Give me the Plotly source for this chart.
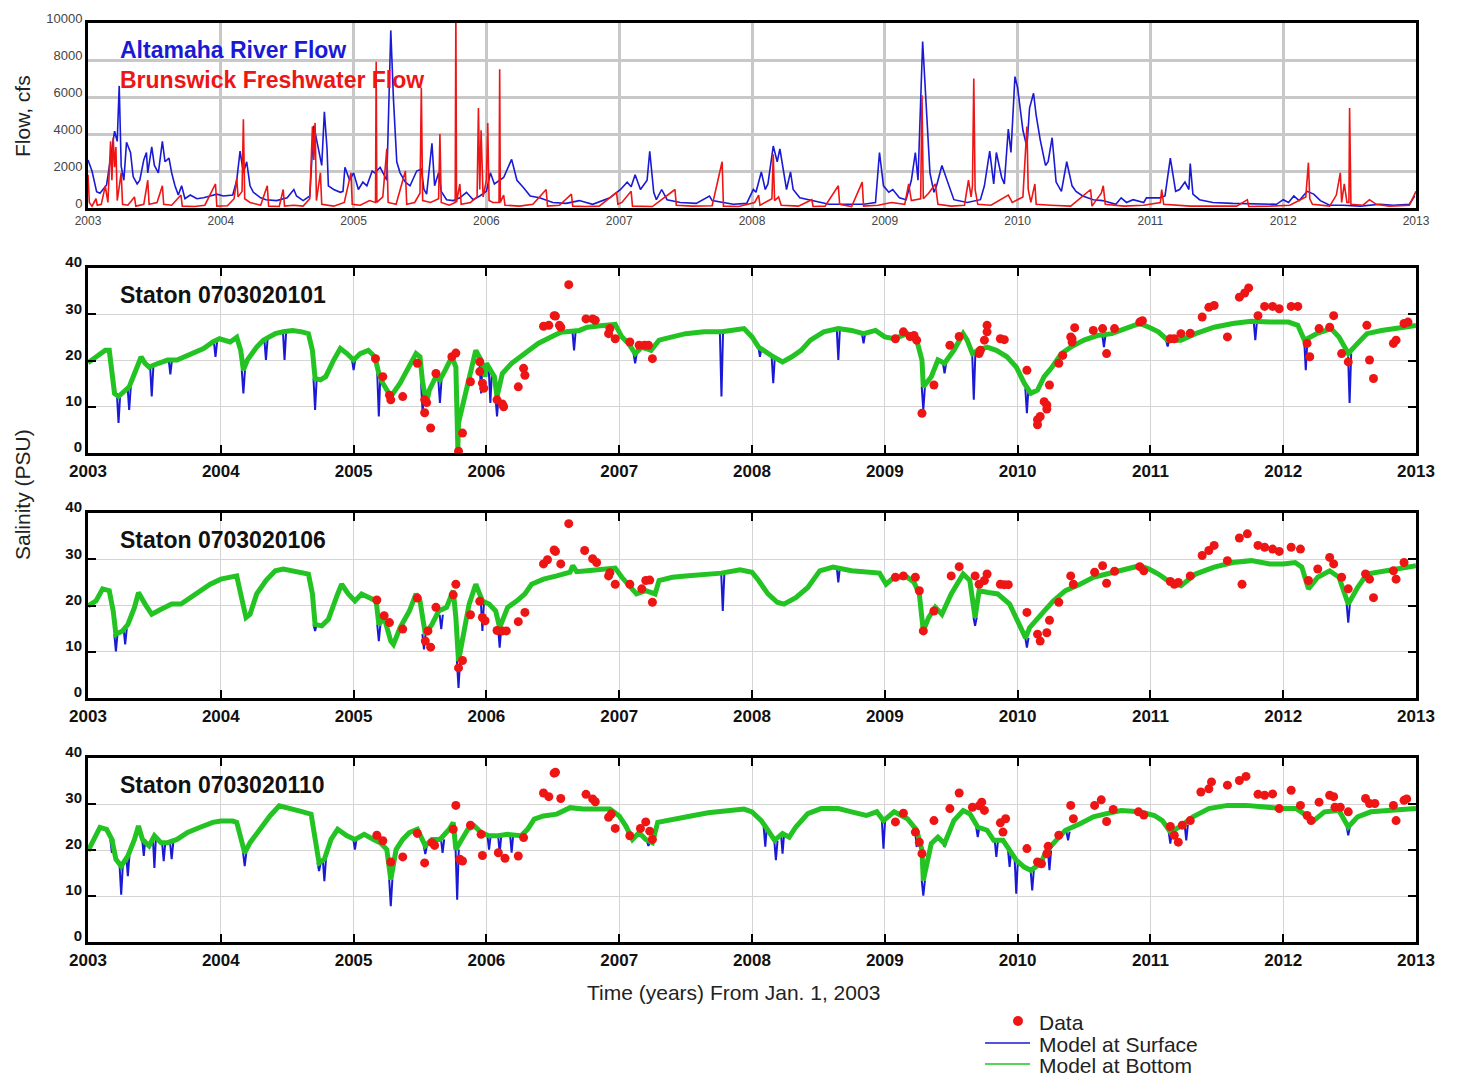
import plotly.graph_objects as go

# ---------------- DATA ----------------
year_ticks = [2003, 2004, 2005, 2006, 2007, 2008, 2009, 2010, 2011, 2012, 2013]
year_labels = ["2003", "2004", "2005", "2006", "2007", "2008", "2009", "2010", "2011", "2012", "2013"]
flow_ticks = [0, 2000, 4000, 6000, 8000, 10000]
flow_labels = ["0", "2000", "4000", "6000", "8000", "10000"]
sal_ticks = [0, 10, 20, 30, 40]
sal_labels = ["0", "10", "20", "30", "40"]

# Altamaha River Flow (cfs)
alt_t = [2003.00, 2003.03, 2003.065, 2003.09, 2003.14, 2003.19, 2003.20, 2003.22, 2003.235, 2003.25, 2003.27,
         2003.29, 2003.32, 2003.34, 2003.37, 2003.39, 2003.42, 2003.44, 2003.45, 2003.48, 2003.50, 2003.53,
         2003.56, 2003.58, 2003.61, 2003.63, 2003.655, 2003.68, 2003.705, 2003.73, 2003.77, 2003.82, 2003.87,
         2003.92, 2003.97, 2004.02, 2004.09, 2004.12, 2004.145, 2004.17, 2004.195, 2004.22, 2004.245, 2004.30,
         2004.34, 2004.42, 2004.50, 2004.55, 2004.57, 2004.62, 2004.67, 2004.70, 2004.72, 2004.75, 2004.76,
         2004.78, 2004.80, 2004.81, 2004.85, 2004.90, 2004.92, 2004.935, 2004.97, 2005.00, 2005.036, 2005.07,
         2005.10, 2005.14, 2005.16, 2005.20, 2005.22, 2005.25, 2005.28, 2005.30, 2005.325, 2005.35, 2005.39,
         2005.425, 2005.475, 2005.51, 2005.53, 2005.55, 2005.59, 2005.61, 2005.64, 2005.66, 2005.70, 2005.75,
         2005.80, 2005.85, 2005.90, 2005.95, 2006.00, 2006.03, 2006.06, 2006.13, 2006.19, 2006.23, 2006.28,
         2006.33, 2006.40, 2006.50, 2006.60, 2006.70, 2006.80, 2006.93, 2007.01, 2007.06, 2007.09, 2007.12,
         2007.16, 2007.21, 2007.23, 2007.26, 2007.28, 2007.32, 2007.36, 2007.46, 2007.58, 2007.68, 2007.70,
         2007.86, 2007.96, 2008.01, 2008.03, 2008.07, 2008.10, 2008.12, 2008.16, 2008.19, 2008.21, 2008.24,
         2008.26, 2008.29, 2008.31, 2008.36, 2008.46, 2008.58, 2008.71, 2008.84, 2008.93, 2008.96, 2008.99,
         2009.03, 2009.06, 2009.11, 2009.16, 2009.20, 2009.23, 2009.25, 2009.285, 2009.32, 2009.34, 2009.37,
         2009.39, 2009.43, 2009.47, 2009.52, 2009.62, 2009.72, 2009.75, 2009.79, 2009.82, 2009.84, 2009.88,
         2009.90, 2009.93, 2009.95, 2009.98, 2010.00, 2010.04, 2010.07, 2010.09, 2010.12, 2010.14, 2010.17,
         2010.21, 2010.23, 2010.26, 2010.28, 2010.29, 2010.33, 2010.37, 2010.41, 2010.44, 2010.49, 2010.57,
         2010.64, 2010.74, 2010.78, 2010.82, 2010.87, 2010.95, 2010.97, 2011.07, 2011.11, 2011.15, 2011.19,
         2011.22, 2011.26, 2011.29, 2011.30, 2011.32, 2011.37, 2011.47, 2011.62, 2011.83, 2011.95, 2012.00,
         2012.04, 2012.08, 2012.12, 2012.18, 2012.23, 2012.28, 2012.35, 2012.45, 2012.58, 2012.73, 2012.83,
         2012.95, 2012.99]
alt_v = [2600, 2000, 880, 800, 1250, 3700, 4150, 3600, 6600, 2250, 1500,
         3550, 3000, 1700, 1300, 1500, 2600, 3000, 1900, 3300, 2300, 1900,
         3600, 2500, 2700, 1900, 1200, 700, 1200, 500, 700, 500, 550,
         650, 750, 650, 700, 1500, 3070, 1900, 2500, 1200, 850, 550,
         450, 400, 550, 1000, 650, 400, 650, 4450, 3700, 2500, 2300,
         5200, 3200, 1200, 1000, 850, 900, 2200, 1500, 1900, 1000, 1400,
         1200, 2000, 1900, 2200, 1900, 1500, 9600, 5900, 2500, 1900, 1400,
         1200, 2000, 2100, 1000, 750, 3500, 1200, 1900, 900, 450, 400,
         550, 850, 450, 650, 900, 1900, 1300, 1650, 2630, 1500, 1100,
         650, 550, 300, 250, 400, 200, 550, 1000, 1400, 1150, 1800,
         1000, 1500, 3070, 850, 450, 1000, 450, 300, 250, 650, 400,
         200, 250, 1000, 850, 1950, 1000, 1300, 3350, 2500, 3200, 1900,
         1000, 1950, 1000, 550, 400, 200, 200, 200, 300, 3000, 1200,
         850, 1000, 550, 450, 1500, 3000, 1500, 9000, 4200, 1900, 850,
         1200, 2300, 1500, 450, 300, 450, 1200, 3070, 1300, 3000, 1650,
         1300, 4270, 3000, 7100, 6500, 4200, 3300, 5400, 6200, 5000, 3700,
         2300, 2500, 3800, 1900, 1400, 900, 2500, 1200, 900, 650, 450,
         400, 200, 550, 300, 450, 300, 550, 550, 650, 2700, 900,
         1000, 1400, 1000, 2400, 750, 450, 300, 250, 200, 200, 450,
         300, 650, 400, 900, 750, 400, 150, 150, 100, 200, 150,
         200, 650]

# Brunswick Freshwater Flow (cfs)
bru_t = [2003.00, 2003.01, 2003.03, 2003.06, 2003.07, 2003.10, 2003.13, 2003.15, 2003.17, 2003.18, 2003.19,
         2003.20, 2003.21, 2003.22, 2003.25, 2003.26, 2003.30, 2003.35, 2003.36, 2003.42, 2003.45, 2003.46,
         2003.52, 2003.56, 2003.57, 2003.63, 2003.70, 2003.71, 2003.80, 2003.88, 2003.96, 2003.97, 2004.05,
         2004.10, 2004.12, 2004.13, 2004.16, 2004.17, 2004.18, 2004.22, 2004.30, 2004.35, 2004.36, 2004.44,
         2004.47, 2004.48, 2004.55, 2004.62, 2004.67, 2004.69, 2004.70, 2004.71, 2004.72, 2004.75, 2004.76,
         2004.85, 2004.93, 2004.98, 2004.99, 2005.05, 2005.12, 2005.165, 2005.17, 2005.175, 2005.22, 2005.25,
         2005.26, 2005.32, 2005.39, 2005.40, 2005.46, 2005.50, 2005.51, 2005.52, 2005.58, 2005.64, 2005.65,
         2005.66, 2005.72, 2005.765, 2005.77, 2005.775, 2005.80, 2005.81, 2005.88, 2005.93, 2005.94, 2005.95,
         2005.96, 2005.975, 2006.00, 2006.01, 2006.02, 2006.05, 2006.095, 2006.10, 2006.105, 2006.13, 2006.14,
         2006.25, 2006.35, 2006.45, 2006.46, 2006.55, 2006.64, 2006.65, 2006.75, 2006.85, 2006.98, 2006.99,
         2007.02, 2007.09, 2007.10, 2007.25, 2007.42, 2007.43, 2007.55, 2007.70, 2007.775, 2007.785, 2007.90,
         2008.02, 2008.05, 2008.06, 2008.15, 2008.16, 2008.17, 2008.20, 2008.22, 2008.35, 2008.45, 2008.46,
         2008.55, 2008.65, 2008.66, 2008.75, 2008.83, 2008.84, 2008.95, 2009.05, 2009.15, 2009.18, 2009.20,
         2009.27, 2009.28, 2009.29, 2009.33, 2009.38, 2009.40, 2009.50, 2009.60, 2009.63, 2009.65, 2009.66,
         2009.67, 2009.68, 2009.70, 2009.80, 2009.93, 2009.96, 2010.04, 2010.07, 2010.08, 2010.10, 2010.13,
         2010.14, 2010.25, 2010.40, 2010.55, 2010.56, 2010.63, 2010.645, 2010.66, 2010.80, 2010.95, 2011.075,
         2011.085, 2011.10, 2011.30, 2011.50, 2011.65, 2011.73, 2011.74, 2011.90, 2012.05, 2012.17, 2012.19,
         2012.20, 2012.22, 2012.35, 2012.40, 2012.43, 2012.44, 2012.46, 2012.48, 2012.495, 2012.50, 2012.51,
         2012.60, 2012.65, 2012.70, 2012.80, 2012.95, 2013.00]
bru_v = [1800, 300, 100, 500, 150, 200, 1200, 300, 3600, 1500, 3800,
         2200, 3300, 400, 1900, 200, 150, 600, 100, 200, 1500, 200,
         300, 1200, 200, 150, 700, 100, 80, 150, 1300, 100, 120,
         500, 1600, 600, 900, 4800, 500, 300, 150, 1200, 100, 80,
         1000, 100, 150, 100, 500, 4400, 2600, 4600, 400, 1900, 200,
         100, 300, 1900, 200, 150, 400, 300, 7900, 300, 600, 3200,
         300, 200, 2000, 200, 300, 800, 6500, 400, 300, 500, 4000,
         300, 150, 300, 10800, 300, 1300, 200, 300, 600, 5400, 1000,
         4200, 600, 1500, 4600, 400, 300, 300, 7500, 300, 700, 150,
         100, 200, 1000, 100, 150, 750, 100, 80, 100, 850, 200,
         300, 900, 100, 80, 1000, 150, 100, 120, 2500, 100, 80,
         300, 700, 150, 500, 2900, 400, 600, 150, 100, 450, 80,
         100, 1200, 200, 80, 1400, 100, 150, 300, 200, 1300, 400,
         500, 6100, 500, 800, 1300, 200, 100, 150, 1500, 600, 1200,
         7000, 1000, 200, 150, 700, 300, 600, 4400, 1000, 300, 1300,
         200, 150, 100, 1000, 100, 800, 1200, 200, 100, 150, 300,
         1000, 200, 100, 80, 100, 450, 80, 100, 150, 600, 2450,
         500, 200, 100, 700, 1900, 300, 1300, 300, 300, 5400, 200,
         150, 450, 200, 100, 150, 900]

# ---- Station 0703020101 ----
s1_bot_t = [2003.00, 2003.06, 2003.13, 2003.16, 2003.18, 2003.20, 2003.23, 2003.28, 2003.31, 2003.36, 2003.40,
            2003.43, 2003.46, 2003.53, 2003.60, 2003.67, 2003.73, 2003.80, 2003.87, 2003.94, 2003.99, 2004.07,
            2004.12, 2004.15, 2004.17, 2004.20, 2004.27, 2004.32, 2004.41, 2004.47, 2004.54, 2004.61, 2004.66,
            2004.69, 2004.71, 2004.75, 2004.79, 2004.85, 2004.90, 2004.95, 2005.00, 2005.05, 2005.11, 2005.16,
            2005.19, 2005.22, 2005.25, 2005.28, 2005.35, 2005.42, 2005.47, 2005.50, 2005.52, 2005.55, 2005.57,
            2005.62, 2005.65, 2005.69, 2005.74, 2005.77, 2005.785, 2005.79, 2005.82, 2005.85, 2005.89, 2005.92,
            2005.96, 2005.99, 2006.00, 2006.03, 2006.06, 2006.08, 2006.12, 2006.19, 2006.26, 2006.33, 2006.39,
            2006.46, 2006.56, 2006.70, 2006.76, 2006.86, 2006.97, 2007.02, 2007.07, 2007.12, 2007.17, 2007.24,
            2007.30, 2007.40, 2007.50, 2007.64, 2007.77, 2007.84, 2007.94, 2008.00, 2008.05, 2008.16, 2008.23,
            2008.30, 2008.37, 2008.44, 2008.54, 2008.65, 2008.75, 2008.84, 2008.93, 2009.00, 2009.07, 2009.17,
            2009.24, 2009.28, 2009.29, 2009.35, 2009.40, 2009.45, 2009.52, 2009.59, 2009.62, 2009.66, 2009.70,
            2009.77, 2009.84, 2009.92, 2009.99, 2010.05, 2010.10, 2010.15, 2010.20, 2010.26, 2010.33, 2010.40,
            2010.50, 2010.60, 2010.71, 2010.81, 2010.92, 2010.99, 2011.06, 2011.13, 2011.23, 2011.34, 2011.48,
            2011.62, 2011.76, 2011.90, 2012.04, 2012.11, 2012.16, 2012.25, 2012.36, 2012.42, 2012.49, 2012.56,
            2012.63, 2012.74, 2012.88, 2013.00]
s1_bot_v = [19.5, 20.8, 22.2, 22.2, 17.9, 12.9, 12.2, 13.6, 14.3, 17.9, 20.8,
            19.4, 18.6, 19.4, 20.1, 20.1, 20.8, 21.5, 22.6, 24.0, 24.7, 24.0,
            25.0, 22.2, 17.9, 20.1, 22.9, 24.4, 25.8, 26.2, 26.5, 26.2, 25.8,
            22.2, 16.1, 15.8, 16.5, 20.1, 22.6, 21.5, 20.1, 21.5, 22.2, 20.8,
            17.2, 15.1, 13.6, 12.2, 15.1, 18.6, 21.5, 20.8, 15.1, 10.8, 13.6,
            16.5, 15.8, 17.9, 20.8, 18.6, 1.0, 6.5, 10.0, 13.6, 17.9, 22.2,
            20.1, 16.5, 19.4, 17.9, 16.5, 12.2, 17.2, 19.4, 20.8, 22.2, 23.7,
            24.7, 26.1, 26.5, 27.2, 27.5, 27.8, 25.1, 23.7, 21.5, 22.9, 22.2,
            24.4, 25.1, 25.8, 26.2, 26.2, 26.5, 26.9, 25.1, 22.9, 20.8, 19.7,
            20.8, 22.2, 24.4, 26.2, 26.9, 26.5, 25.8, 26.5, 25.1, 24.7, 25.8,
            24.4, 20.1, 14.3, 16.5, 20.1, 19.4, 22.2, 25.8, 24.4, 21.5, 22.2,
            22.9, 22.2, 20.8, 18.6, 15.1, 12.9, 13.6, 16.5, 18.6, 21.5, 22.9,
            24.4, 25.4, 25.8, 26.9, 28.0, 27.2, 26.2, 24.4, 24.4, 25.8, 27.2,
            28.0, 28.5, 28.3, 28.3, 27.6, 24.4, 25.8, 26.9, 25.1, 21.5, 23.7,
            25.8, 26.5, 27.2, 27.6]
s1_dip_t = [2003.23, 2003.31, 2003.48, 2003.62, 2003.96, 2004.17, 2004.34, 2004.48, 2004.71, 2005.00, 2005.19,
            2005.52, 2005.65, 2005.96, 2006.03, 2006.08, 2006.66, 2007.12, 2007.77, 2008.06, 2008.16, 2008.65,
            2008.84, 2009.29, 2009.45, 2009.67, 2010.07, 2010.65, 2011.13, 2011.79, 2012.17, 2012.50]
s1_dip_base = [12.5, 14.3, 18.6, 20.1, 24.0, 17.9, 24.5, 26.2, 16.1, 20.1, 17.2,
               15.1, 15.8, 20.1, 17.9, 12.2, 26.3, 21.5, 26.2, 22.9, 20.8, 26.9,
               25.8, 14.3, 19.4, 21.5, 14.0, 25.5, 24.4, 28.4, 24.4, 21.5]
s1_dip_v = [6.5, 9.3, 12.2, 17.0, 20.8, 12.9, 20.1, 20.1, 9.3, 17.9, 7.9,
            8.6, 10.8, 12.9, 10.8, 7.9, 22.2, 19.4, 12.2, 20.8, 15.1, 20.1,
            23.7, 9.3, 17.2, 11.5, 8.6, 22.9, 23.0, 24.4, 17.9, 10.8]
s1_obs_t = [2005.165, 2005.22, 2005.27, 2005.28, 2005.37, 2005.48, 2005.535, 2005.535, 2005.55, 2005.58, 2005.62,
            2005.74, 2005.77, 2005.79, 2005.82, 2005.88, 2005.95, 2005.95, 2005.97, 2005.98, 2006.08, 2006.12,
            2006.13, 2006.24, 2006.28, 2006.29, 2006.43, 2006.47, 2006.51, 2006.52, 2006.56, 2006.55, 2006.62,
            2006.75, 2006.80, 2006.82, 2006.92, 2006.93, 2006.97, 2007.08, 2007.15, 2007.19, 2007.22, 2007.25,
            2009.08, 2009.14, 2009.19, 2009.22, 2009.24, 2009.28, 2009.37, 2009.49, 2009.56, 2009.71, 2009.72,
            2009.75, 2009.77, 2009.77, 2009.87, 2009.90, 2010.07, 2010.15, 2010.15, 2010.17, 2010.20, 2010.22,
            2010.22, 2010.24, 2010.31, 2010.34, 2010.40, 2010.41, 2010.43, 2010.41, 2010.57, 2010.64, 2010.67,
            2010.73, 2010.92, 2010.94, 2011.15, 2011.18, 2011.23, 2011.30, 2011.39, 2011.44, 2011.48, 2011.58,
            2011.67, 2011.71, 2011.74, 2011.81, 2011.86, 2011.92, 2011.97, 2012.06, 2012.11, 2012.18, 2012.20,
            2012.27, 2012.35, 2012.38, 2012.44, 2012.49, 2012.63, 2012.65, 2012.68, 2012.83, 2012.85, 2012.91,
            2012.94]
s1_obs_v = [20.4, 16.5, 12.5, 11.5, 12.2, 19.4, 11.5, 8.7, 10.9, 5.4, 17.2,
            20.8, 21.6, 0.4, 4.3, 15.4, 19.7, 17.6, 15.1, 14.0, 11.5, 10.6,
            10.0, 14.3, 18.3, 16.8, 27.4, 27.6, 29.7, 29.6, 27.2, 27.6, 36.4,
            29.0, 29.0, 28.7, 25.8, 26.9, 24.7, 24.0, 23.3, 23.3, 23.3, 20.4,
            24.7, 26.2, 25.2, 25.4, 24.4, 8.6, 14.7, 23.3, 25.2, 21.5, 22.2,
            24.4, 27.6, 26.2, 24.7, 24.5, 17.9, 7.2, 6.1, 7.9, 11.1, 10.4,
            9.5, 14.7, 19.4, 21.1, 25.1, 24.7, 27.1, 24.0, 26.5, 26.9, 21.5,
            26.9, 28.3, 28.6, 24.7, 24.7, 25.8, 25.9, 29.4, 31.5, 31.9, 25.1,
            33.7, 34.6, 35.7, 29.7, 31.7, 31.7, 31.2, 31.7, 31.7, 23.7, 20.8,
            26.9, 27.2, 29.7, 21.5, 19.7, 27.6, 20.1, 16.1, 23.7, 24.4, 28.0,
            28.3]

# ---- Station 0703020106 ----
s2_bot_t = [2003.00, 2003.06, 2003.11, 2003.16, 2003.19, 2003.21, 2003.26, 2003.30, 2003.35, 2003.38, 2003.43,
            2003.48, 2003.55, 2003.63, 2003.70, 2003.77, 2003.84, 2003.92, 2004.00, 2004.07, 2004.12, 2004.15,
            2004.19, 2004.22, 2004.27, 2004.34, 2004.41, 2004.47, 2004.58, 2004.66, 2004.69, 2004.71, 2004.76,
            2004.81, 2004.88, 2004.91, 2004.96, 2005.01, 2005.06, 2005.11, 2005.17, 2005.19, 2005.23, 2005.28,
            2005.30, 2005.35, 2005.42, 2005.47, 2005.50, 2005.54, 2005.59, 2005.64, 2005.70, 2005.75, 2005.77,
            2005.79, 2005.82, 2005.87, 2005.92, 2005.97, 2006.02, 2006.07, 2006.10, 2006.16, 2006.23, 2006.29,
            2006.34, 2006.43, 2006.53, 2006.63, 2006.65, 2006.68, 2006.76, 2006.86, 2006.97, 2007.02, 2007.07,
            2007.13, 2007.20, 2007.27, 2007.30, 2007.40, 2007.50, 2007.64, 2007.77, 2007.91, 2008.00, 2008.05,
            2008.12, 2008.19, 2008.24, 2008.33, 2008.42, 2008.51, 2008.61, 2008.75, 2008.86, 2008.96, 2009.01,
            2009.07, 2009.17, 2009.22, 2009.26, 2009.29, 2009.33, 2009.38, 2009.43, 2009.50, 2009.59, 2009.64,
            2009.68, 2009.71, 2009.78, 2009.85, 2009.94, 2010.00, 2010.06, 2010.09, 2010.15, 2010.20, 2010.27,
            2010.36, 2010.47, 2010.57, 2010.67, 2010.78, 2010.92, 2010.99, 2011.06, 2011.15, 2011.23, 2011.34,
            2011.48, 2011.62, 2011.76, 2011.90, 2012.00, 2012.09, 2012.14, 2012.19, 2012.26, 2012.35, 2012.42,
            2012.49, 2012.56, 2012.63, 2012.77, 2012.91, 2013.00]
s2_bot_v = [19.9, 21.0, 23.6, 23.2, 18.8, 13.8, 14.5, 15.9, 19.6, 22.8, 20.3,
            18.1, 19.2, 20.3, 20.3, 21.7, 23.2, 24.6, 25.7, 26.1, 26.4, 22.5,
            17.4, 18.1, 22.5, 25.4, 27.5, 27.9, 27.2, 26.8, 22.5, 15.9, 15.6,
            17.0, 22.5, 24.6, 22.5, 21.0, 22.5, 21.7, 21.0, 15.9, 17.4, 12.3,
            11.6, 15.2, 18.8, 22.5, 21.0, 13.8, 15.9, 18.8, 19.6, 23.2, 17.4,
            8.0, 12.3, 20.3, 24.6, 21.0, 20.3, 18.8, 15.2, 19.6, 21.0, 22.5,
            24.6, 25.7, 26.4, 27.2, 28.6, 27.3, 27.5, 27.9, 28.1, 26.1, 24.6,
            22.5, 23.2, 22.5, 25.4, 26.1, 26.4, 26.8, 27.0, 27.7, 27.2, 25.4,
            22.5, 20.7, 20.3, 21.7, 23.9, 27.5, 28.3, 27.5, 27.2, 27.0, 24.6,
            26.1, 26.1, 25.0, 22.5, 14.5, 17.4, 19.6, 18.1, 22.5, 26.8, 25.4,
            17.4, 23.2, 22.8, 22.5, 20.3, 16.7, 13.0, 15.2, 17.4, 18.8, 21.0,
            23.2, 24.6, 26.1, 26.8, 27.5, 28.6, 27.9, 26.8, 25.0, 24.3, 26.8,
            28.3, 29.3, 29.7, 29.0, 29.0, 29.3, 28.3, 23.6, 26.1, 27.5, 26.1,
            20.3, 23.9, 26.8, 27.5, 28.3, 28.6]
s2_dip_t = [2003.21, 2003.28, 2004.71, 2005.19, 2005.53, 2005.66, 2005.79, 2005.97, 2006.10, 2007.78, 2008.65,
            2009.68, 2010.07, 2012.49]
s2_dip_base = [13.8, 15.0, 15.9, 15.9, 13.8, 18.0, 8.0, 21.0, 15.2, 27.0, 28.3,
               17.4, 13.0, 20.3]
s2_dip_v = [10.1, 11.6, 14.5, 12.3, 10.5, 14.9, 2.2, 14.5, 10.9, 18.8, 25.0,
            15.6, 10.9, 16.3]
s2_obs_t = [2005.175, 2005.23, 2005.27, 2005.37, 2005.48, 2005.54, 2005.56, 2005.58, 2005.62, 2005.75, 2005.77,
            2005.79, 2005.82, 2005.88, 2005.95, 2005.97, 2005.99, 2006.08, 2006.12, 2006.15, 2006.24, 2006.29,
            2006.43, 2006.46, 2006.51, 2006.52, 2006.56, 2006.62, 2006.74, 2006.80, 2006.83, 2006.92, 2006.93,
            2006.97, 2007.08, 2007.17, 2007.20, 2007.23, 2007.25,
            2009.08, 2009.14, 2009.23, 2009.26, 2009.29, 2009.37, 2009.50, 2009.56, 2009.68, 2009.71, 2009.77,
            2009.75, 2009.87, 2009.90, 2009.93, 2010.07, 2010.15, 2010.17, 2010.22, 2010.24, 2010.31, 2010.40,
            2010.42, 2010.58, 2010.64, 2010.67, 2010.73, 2010.92, 2010.95, 2011.15, 2011.18, 2011.21, 2011.30,
            2011.39, 2011.44, 2011.48, 2011.58, 2011.67, 2011.73, 2011.69, 2011.81, 2011.86, 2011.92, 2011.97,
            2012.06, 2012.13, 2012.19, 2012.26, 2012.35, 2012.38, 2012.44, 2012.49, 2012.62, 2012.65, 2012.68,
            2012.83, 2012.85, 2012.91]
s2_obs_v = [21.2, 17.8, 16.3, 14.9, 21.6, 12.3, 14.5, 11.0, 19.6, 22.3, 24.6,
            6.5, 8.1, 18.0, 20.9, 17.4, 16.7, 14.6, 14.5, 14.5, 16.5, 18.5,
            29.0, 29.9, 32.0, 31.7, 29.0, 37.7, 31.9, 30.1, 29.3, 26.4, 27.1,
            24.6, 24.6, 23.6, 25.4, 25.5, 20.7,
            26.1, 26.4, 26.1, 23.2, 14.5, 18.8, 26.4, 28.4, 26.4, 24.6, 26.8,
            25.4, 24.6, 24.5, 24.5, 18.5, 13.8, 12.3, 14.1, 16.8, 20.7, 26.4,
            24.6, 27.2, 28.6, 24.8, 27.4, 28.4, 27.5, 25.2, 24.6, 25.0, 26.4,
            30.8, 31.9, 33.0, 29.7, 34.6, 35.5, 24.6, 33.0, 32.6, 32.2, 31.7,
            32.6, 32.2, 25.4, 27.9, 30.4, 29.0, 26.1, 23.6, 26.8, 25.7, 21.7,
            27.5, 25.7, 29.3]

# ---- Station 0703020110 ----
s3_bot_t = [2003.00, 2003.04, 2003.09, 2003.14, 2003.18, 2003.21, 2003.25, 2003.30, 2003.35, 2003.38, 2003.41,
            2003.46, 2003.50, 2003.55, 2003.60, 2003.67, 2003.75, 2003.84, 2003.94, 2004.00, 2004.09, 2004.12,
            2004.15, 2004.18, 2004.22, 2004.29, 2004.37, 2004.44, 2004.51, 2004.59, 2004.68, 2004.71, 2004.74,
            2004.78, 2004.83, 2004.88, 2004.95, 2005.01, 2005.08, 2005.15, 2005.20, 2005.25, 2005.28, 2005.32,
            2005.37, 2005.42, 2005.48, 2005.54, 2005.59, 2005.65, 2005.72, 2005.75, 2005.77, 2005.80, 2005.86,
            2005.91, 2005.96, 2006.02, 2006.09, 2006.16, 2006.26, 2006.31, 2006.36, 2006.43, 2006.53, 2006.63,
            2006.73, 2006.83, 2006.93, 2007.00, 2007.05, 2007.10, 2007.15, 2007.20, 2007.25, 2007.29, 2007.40,
            2007.54, 2007.67, 2007.81, 2007.94, 2008.00, 2008.07, 2008.12, 2008.17, 2008.23, 2008.28, 2008.33,
            2008.42, 2008.52, 2008.65, 2008.75, 2008.86, 2008.94, 2008.99, 2009.07, 2009.17, 2009.24, 2009.28,
            2009.29, 2009.35, 2009.40, 2009.45, 2009.52, 2009.59, 2009.64, 2009.70, 2009.77, 2009.82, 2009.89,
            2009.94, 2009.99, 2010.05, 2010.10, 2010.17, 2010.22, 2010.29, 2010.36, 2010.47, 2010.57, 2010.67,
            2010.78, 2010.92, 2011.03, 2011.09, 2011.15, 2011.22, 2011.32, 2011.44, 2011.58, 2011.72, 2011.86,
            2012.00, 2012.10, 2012.17, 2012.23, 2012.31, 2012.42, 2012.49, 2012.56, 2012.66, 2012.80, 2013.00]
s3_bot_v = [19.8, 22.3, 24.9, 24.5, 22.3, 18.0, 16.5, 18.7, 22.3, 25.2, 22.3,
            20.9, 23.1, 21.6, 21.6, 22.3, 23.8, 24.9, 26.0, 26.3, 26.3, 26.0,
            22.3, 19.4, 21.6, 24.5, 27.4, 29.6, 29.2, 28.5, 27.8, 22.3, 17.2,
            18.0, 22.3, 24.5, 23.1, 22.3, 23.4, 22.3, 21.6, 20.1, 13.6, 20.1,
            22.3, 23.8, 24.5, 20.9, 22.3, 22.3, 24.5, 26.0, 20.1, 21.6, 24.5,
            25.2, 23.8, 23.1, 23.1, 23.4, 23.1, 24.5, 26.7, 27.4, 27.8, 29.2,
            28.9, 28.9, 28.9, 27.4, 25.2, 22.3, 23.8, 22.3, 21.6, 26.0, 26.7,
            27.4, 28.1, 28.5, 28.9, 28.3, 26.4, 24.3, 22.1, 23.6, 22.8, 25.0,
            27.9, 29.0, 29.0, 28.3, 27.5, 28.3, 26.4, 28.3, 26.8, 24.3, 19.9,
            13.4, 21.4, 22.8, 21.4, 26.4, 28.6, 27.9, 25.0, 24.3, 22.1, 22.1,
            19.9, 17.8, 16.3, 15.6, 17.0, 19.9, 22.1, 24.3, 25.7, 27.2, 27.9,
            28.6, 28.3, 27.5, 26.4, 23.9, 25.0, 27.2, 29.0, 29.7, 29.7, 29.3,
            29.0, 29.0, 27.5, 26.4, 28.3, 28.6, 25.0, 27.2, 28.3, 28.6, 29.0]
s3_dip_t = [2003.18, 2003.25, 2003.30, 2003.42, 2003.50, 2003.57, 2003.63, 2004.18, 2004.74, 2004.78, 2005.01,
            2005.28, 2005.54, 2005.67, 2005.78, 2006.02, 2006.10, 2006.19, 2007.22, 2008.10, 2008.18, 2008.23,
            2008.99, 2009.24, 2009.29, 2009.45, 2009.70, 2009.84, 2009.94, 2009.99, 2010.11, 2010.24, 2010.38,
            2011.15, 2011.27, 2012.49]
s3_dip_base = [22.3, 16.5, 18.7, 22.3, 23.0, 21.6, 21.6, 19.4, 17.2, 18.0, 22.3,
               13.6, 20.9, 22.3, 20.1, 23.1, 23.1, 23.4, 22.0, 25.0, 22.0, 23.6,
               26.4, 24.3, 13.4, 21.4, 25.0, 22.0, 19.9, 17.8, 15.6, 19.9, 24.0,
               23.9, 25.5, 25.0]
s3_dip_v = [19.4, 10.3, 14.3, 18.7, 16.1, 17.6, 18.0, 16.5, 15.4, 13.2, 20.1,
            7.8, 19.1, 19.4, 9.2, 20.1, 19.4, 19.4, 20.9, 20.7, 17.8, 19.2,
            20.3, 20.7, 10.1, 20.7, 22.8, 18.5, 16.3, 10.5, 11.2, 15.6, 22.1,
            21.4, 22.1, 23.2]
s3_obs_t = [2005.175, 2005.22, 2005.28, 2005.37, 2005.48, 2005.535, 2005.59, 2005.61, 2005.75, 2005.77, 2005.80,
            2005.82, 2005.88, 2005.96, 2005.97, 2006.09, 2006.14, 2006.24, 2006.28, 2006.43, 2006.47, 2006.51,
            2006.52, 2006.56, 2006.62, 2006.75, 2006.80, 2006.82, 2006.92, 2006.94, 2006.97, 2007.08, 2007.16,
            2007.20, 2007.23, 2007.25,
            2009.08, 2009.14, 2009.23, 2009.26, 2009.28, 2009.37, 2009.49, 2009.56, 2009.66, 2009.73, 2009.75,
            2009.71, 2009.87, 2009.91, 2009.89, 2010.07, 2010.15, 2010.18, 2010.22, 2010.23, 2010.31, 2010.40,
            2010.42, 2010.58, 2010.63, 2010.67, 2010.72, 2010.91, 2010.95, 2011.15, 2011.18, 2011.21, 2011.24,
            2011.30, 2011.38, 2011.44, 2011.46, 2011.58, 2011.67, 2011.72, 2011.81, 2011.86, 2011.92, 2011.97,
            2012.06, 2012.13, 2012.18, 2012.21, 2012.27, 2012.35, 2012.38, 2012.39, 2012.43, 2012.49, 2012.62,
            2012.65, 2012.69, 2012.83, 2012.85, 2012.91, 2012.93]
s3_obs_v = [23.2, 22.0, 17.4, 18.5, 23.6, 17.2, 21.6, 21.0, 24.5, 29.7, 18.0,
            17.6, 25.4, 23.4, 18.8, 19.4, 18.2, 18.7, 22.7, 32.4, 31.6, 36.7,
            36.9, 31.2, 40.1, 32.1, 31.1, 30.5, 27.1, 27.8, 24.7, 23.1, 24.7,
            26.1, 24.1, 22.3,
            26.1, 28.0, 23.9, 21.7, 19.2, 26.4, 29.0, 32.4, 29.3, 30.4, 28.6,
            29.6, 25.9, 26.8, 23.9, 20.3, 17.4, 17.0, 19.2, 20.8, 23.2, 29.7,
            26.8, 29.7, 30.9, 26.2, 28.8, 28.3, 27.6, 25.1, 23.2, 21.7, 25.4,
            26.4, 32.6, 33.3, 34.8, 34.1, 35.1, 36.0, 32.1, 31.9, 32.2, 29.0,
            33.0, 29.7, 27.5, 26.4, 30.4, 31.9, 31.6, 29.3, 29.3, 28.3, 31.2,
            30.1, 30.1, 29.7, 26.4, 30.8, 31.1]

stations = [
    ("Staton 0703020101", s1_bot_t, s1_bot_v, s1_dip_t, s1_dip_base, s1_dip_v, s1_obs_t, s1_obs_v),
    ("Staton 0703020106", s2_bot_t, s2_bot_v, s2_dip_t, s2_dip_base, s2_dip_v, s2_obs_t, s2_obs_v),
    ("Staton 0703020110", s3_bot_t, s3_bot_v, s3_dip_t, s3_dip_base, s3_dip_v, s3_obs_t, s3_obs_v),
]
legend_labels = ["Data", "Model at Surface", "Model at Bottom"]

# ---------------- STYLE ----------------
W, H = 1469, 1078
ML, MR, MT, MB = 88, 53, 23, 136
PW, PH = W - ML - MR, H - MT - MB
FONT = "Liberation Sans, Arial, sans-serif"
BLUE = "#1a1ad6"
GREEN = "#22c322"
RED = "#ee1515"
DIP_HALF = 0.012  # half width (years) of surface-salinity excursions


def px_x(p):
    return (p - ML) / PW


def px_y(p):
    return 1 - (p - MT) / PH


panel_px = [(23, 208), (268, 453), (513, 698), (758, 942)]
domains = [[px_y(b), px_y(t)] for (t, b) in panel_px]

fig = go.Figure()

# --- flow panel ---
fig.add_trace(go.Scatter(x=alt_t, y=alt_v, mode="lines", line=dict(color=BLUE, width=1.6),
                         showlegend=False, xaxis="x", yaxis="y"))
fig.add_trace(go.Scatter(x=bru_t, y=bru_v, mode="lines", line=dict(color=RED, width=1.6),
                         showlegend=False, xaxis="x", yaxis="y"))

# --- salinity panels ---
for i, (name, bt, bv, dt, db, dv, ot, ov) in enumerate(stations):
    ax = str(i + 2)
    sx, sy = [], []
    for t, b, v in zip(dt, db, dv):
        sx += [t - DIP_HALF, t, t + DIP_HALF, None]
        sy += [b, v, b, None]
    fig.add_trace(go.Scatter(x=sx, y=sy, mode="lines", line=dict(color=BLUE, width=2),
                             connectgaps=False, showlegend=False, xaxis="x" + ax, yaxis="y" + ax))
    fig.add_trace(go.Scatter(x=bt, y=bv, mode="lines", line=dict(color=GREEN, width=5),
                             showlegend=False, xaxis="x" + ax, yaxis="y" + ax))
    fig.add_trace(go.Scatter(x=ot, y=ov, mode="markers",
                             marker=dict(color=RED, size=9, line=dict(width=0)),
                             cliponaxis=False, showlegend=False, xaxis="x" + ax, yaxis="y" + ax))

layout = dict(
    width=W, height=H, margin=dict(l=ML, r=MR, t=MT, b=MB, autoexpand=False),
    paper_bgcolor="white", plot_bgcolor="white",
    font=dict(family=FONT, color="black"),
    showlegend=False,
)

# flow axes
layout["xaxis"] = dict(domain=[0, 1], range=[2003, 2013], tickvals=year_ticks, ticktext=year_labels,
                       showgrid=True, gridcolor="#c8c8c8", gridwidth=2.5,
                       showline=True, mirror=True, linecolor="black", linewidth=3,
                       ticks="", tickfont=dict(size=12, color="#444"), zeroline=False, anchor="y")
layout["yaxis"] = dict(domain=domains[0], range=[0, 10000], tickvals=flow_ticks, ticktext=flow_labels,
                       showgrid=True, gridcolor="#c8c8c8", gridwidth=2.5,
                       showline=True, mirror=True, linecolor="black", linewidth=3,
                       ticks="", tickfont=dict(size=13, color="#444"), zeroline=False, anchor="x",
                       ticklabelshift=-5)
layout["yaxis5"] = dict(domain=domains[0], range=[0, 10000], tickvals=flow_ticks, ticktext=flow_labels,
                        overlaying="y", side="right", anchor="x", showgrid=False, zeroline=False,
                        showline=False, ticks="", tickfont=dict(size=13, color="#444"),
                        ticklabelshift=-5)

for i in range(3):
    ax = str(i + 2)
    layout["xaxis" + ax] = dict(domain=[0, 1], range=[2003, 2013], tickvals=year_ticks,
                                ticktext=year_labels, anchor="y" + ax,
                                showgrid=True, gridcolor="#d4d4d4", gridwidth=1,
                                showline=True, mirror="ticks", linecolor="black", linewidth=3,
                                ticks="inside", ticklen=8, tickwidth=2, tickcolor="black",
                                tickfont=dict(size=17, color="#111", weight="bold"), zeroline=False,
                                ticklabelstandoff=1)
    layout["yaxis" + ax] = dict(domain=domains[i + 1], range=[0, 40], tickvals=sal_ticks,
                                ticktext=sal_labels, anchor="x" + ax,
                                showgrid=True, gridcolor="#d4d4d4", gridwidth=1,
                                showline=True, mirror="ticks", linecolor="black", linewidth=3,
                                ticks="inside", ticklen=8, tickwidth=2, tickcolor="black",
                                tickfont=dict(size=15, color="#111", weight="bold"), zeroline=False,
                                ticklabelshift=-6)

annotations = [
    dict(text="Flow, cfs", x=px_x(22), y=px_y(116), textangle=-90, font=dict(size=21, color="#222")),
    dict(text="Salinity (PSU)", x=px_x(22), y=px_y(495), textangle=-90, font=dict(size=21, color="#222")),
    dict(text="Time (years) From Jan. 1, 2003", x=px_x(733), y=px_y(992), font=dict(size=21, color="#222")),
    dict(text="Altamaha River Flow", x=px_x(118), y=px_y(50), xanchor="left",
         font=dict(size=23, color=BLUE, weight="bold")),
    dict(text="Brunswick Freshwater Flow", x=px_x(118), y=px_y(80), xanchor="left",
         font=dict(size=23, color=RED, weight="bold")),
]
for i, st in enumerate(stations):
    annotations.append(dict(text=st[0], x=px_x(118), y=px_y([295, 540, 785][i]), xanchor="left",
                            font=dict(size=23, color="#111", weight="bold")))
# legend (drawn in figure space under the panels)
leg_y = [1022, 1044, 1065]
for lbl, yy in zip(legend_labels, leg_y):
    annotations.append(dict(text=lbl, x=px_x(1037), y=px_y(yy), xanchor="left",
                            font=dict(size=21, color="#222")))
for a in annotations:
    a.update(xref="paper", yref="paper", showarrow=False)
    a.setdefault("xanchor", "center")
    a.setdefault("yanchor", "middle")
layout["annotations"] = annotations

layout["shapes"] = [
    dict(type="circle", xref="paper", yref="paper", x0=px_x(1013), x1=px_x(1023),
         y0=px_y(1026), y1=px_y(1016), fillcolor=RED, line=dict(width=0)),
    dict(type="line", xref="paper", yref="paper", x0=px_x(985), x1=px_x(1030),
         y0=px_y(1043), y1=px_y(1043), line=dict(color=BLUE, width=1.3)),
    dict(type="line", xref="paper", yref="paper", x0=px_x(985), x1=px_x(1030),
         y0=px_y(1064), y1=px_y(1064), line=dict(color=GREEN, width=1.3)),
]

fig.update_layout(**layout)
fig.write_html("out.html")
